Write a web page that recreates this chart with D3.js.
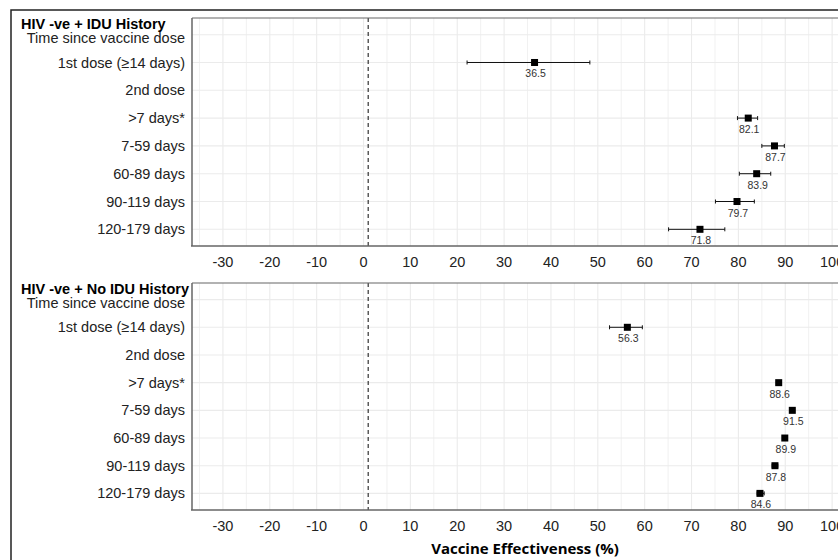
<!DOCTYPE html>
<html>
<head>
<meta charset="utf-8">
<script src="https://cdn.jsdelivr.net/npm/d3@7"></script>
<style>
  body { margin: 0; background: #fff; }
  svg text { font-family: "Liberation Sans", Arial, sans-serif; }
</style>
</head>
<body>
<div id="chart"></div>
<script>
// row labels (same for both panels)
var rows = ["Time since vaccine dose", "1st dose (\u226514 days)", "2nd dose", ">7 days*",
            "7-59 days", "60-89 days", "90-119 days", "120-179 days"];

// panel 1: HIV -ve + IDU History
var idu_rows = ["1st dose (\u226514 days)", ">7 days*", "7-59 days", "60-89 days", "90-119 days", "120-179 days"];
var idu_est  = [36.5, 82.1, 87.7, 83.9, 79.7, 71.8];
var idu_lo   = [22.1, 79.8, 85.0, 80.2, 75.1, 65.1];
var idu_hi   = [48.3, 84.1, 89.8, 86.9, 83.4, 77.1];

// panel 2: HIV -ve + No IDU History
var noidu_rows = ["1st dose (\u226514 days)", ">7 days*", "7-59 days", "60-89 days", "90-119 days", "120-179 days"];
var noidu_est  = [56.3, 88.6, 91.5, 89.9, 87.8, 84.6];
var noidu_lo   = [52.5, 88.1, 91.0, 89.4, 87.2, 84.0];
var noidu_hi   = [59.5, 89.1, 92.0, 90.4, 88.4, 85.5];

var xTicks = [-30, -20, -10, 0, 10, 20, 30, 40, 50, 60, 70, 80, 90, 100];

var W = 838, H = 560;
var svg = d3.select("#chart").append("svg")
    .attr("width", W).attr("height", H);

// outer frame
svg.append("rect")
    .attr("x", 11).attr("y", 10).attr("width", 860).attr("height", 600)
    .attr("fill", "none").attr("stroke", "#222").attr("stroke-width", 1.5);

var x = d3.scaleLinear().domain([-36.6, 102]).range([192, 841.5]);

function panel(title, top, bottom, labels, est, lo, hi) {
    var y = d3.scalePoint().domain(rows).range([top, bottom]).padding(0.6);
    var g = svg.append("g");

    // minor vertical grid
    g.selectAll(".minor").data(d3.range(-35, 101, 10)).enter().append("line")
        .attr("x1", function(d) { return x(d); }).attr("x2", function(d) { return x(d); })
        .attr("y1", top).attr("y2", bottom)
        .attr("stroke", "#efefef").attr("stroke-width", 0.9);
    // major vertical grid
    g.selectAll(".major").data(xTicks).enter().append("line")
        .attr("x1", function(d) { return x(d); }).attr("x2", function(d) { return x(d); })
        .attr("y1", top).attr("y2", bottom)
        .attr("stroke", "#ebebeb").attr("stroke-width", 1.1);
    // horizontal grid
    g.selectAll(".hg").data(rows).enter().append("line")
        .attr("x1", 192).attr("x2", W)
        .attr("y1", function(d) { return y(d); }).attr("y2", function(d) { return y(d); })
        .attr("stroke", "#ebebeb").attr("stroke-width", 1.1);

    // reference line
    g.append("line")
        .attr("x1", x(1)).attr("x2", x(1)).attr("y1", top).attr("y2", bottom)
        .attr("stroke", "#333").attr("stroke-width", 1.2).attr("stroke-dasharray", "4,3");

    // panel border
    g.append("line").attr("x1", 192).attr("x2", W).attr("y1", top).attr("y2", top)
        .attr("stroke", "#666").attr("stroke-width", 1.2);
    g.append("line").attr("x1", 192).attr("x2", 192).attr("y1", top).attr("y2", bottom)
        .attr("stroke", "#666").attr("stroke-width", 1.5);
    g.append("line").attr("x1", 191).attr("x2", W).attr("y1", bottom).attr("y2", bottom)
        .attr("stroke", "#666").attr("stroke-width", 1.6);

    // y labels
    g.selectAll(".yl").data(rows).enter().append("text")
        .attr("x", 185).attr("y", function(d, i) { return y(d) + (i === 0 ? 3 : 0); })
        .attr("dy", "0.35em").attr("text-anchor", "end")
        .style("font-size", "14.5px").attr("fill", "#222")
        .text(function(d) { return d; });

    // x tick labels
    g.selectAll(".xl").data(xTicks).enter().append("text")
        .attr("x", function(d) { return x(d); }).attr("y", bottom + 21)
        .attr("text-anchor", "middle")
        .style("font-size", "14.5px").attr("fill", "#222")
        .text(function(d) { return d; });

    // panel title
    g.append("text")
        .attr("x", 21).attr("y", top + 11)
        .style("font-size", "14.5px").style("font-weight", "bold").attr("fill", "#000")
        .text(title);

    var data = labels.map(function(l, i) { return { row: l, est: est[i], lo: lo[i], hi: hi[i] }; });

    // error bars
    var eb = g.selectAll(".eb").data(data).enter().append("g");
    eb.append("line")
        .attr("x1", function(d) { return x(d.lo); }).attr("x2", function(d) { return x(d.hi); })
        .attr("y1", function(d) { return y(d.row); }).attr("y2", function(d) { return y(d.row); })
        .attr("stroke", "#111").attr("stroke-width", 1);
    eb.append("line")
        .attr("x1", function(d) { return x(d.lo); }).attr("x2", function(d) { return x(d.lo); })
        .attr("y1", function(d) { return y(d.row) - 2; }).attr("y2", function(d) { return y(d.row) + 2; })
        .attr("stroke", "#111").attr("stroke-width", 1);
    eb.append("line")
        .attr("x1", function(d) { return x(d.hi); }).attr("x2", function(d) { return x(d.hi); })
        .attr("y1", function(d) { return y(d.row) - 2; }).attr("y2", function(d) { return y(d.row) + 2; })
        .attr("stroke", "#111").attr("stroke-width", 1);

    // points
    g.selectAll(".pt").data(data).enter().append("rect")
        .attr("x", function(d) { return x(d.est) - 3.5; })
        .attr("y", function(d) { return y(d.row) - 3.5; })
        .attr("width", 7).attr("height", 7).attr("fill", "#000");

    // value labels
    g.selectAll(".vl").data(data).enter().append("text")
        .attr("x", function(d) { return x(d.est) + 1; })
        .attr("y", function(d) { return y(d.row) + 15; })
        .attr("text-anchor", "middle")
        .style("font-size", "10.5px").attr("fill", "#333")
        .text(function(d) { return d.est.toFixed(1); });
}

panel("HIV -ve + IDU History", 18, 246, idu_rows, idu_est, idu_lo, idu_hi);
panel("HIV -ve + No IDU History", 283, 510, noidu_rows, noidu_est, noidu_lo, noidu_hi);

// x axis title
svg.append("text")
    .attr("x", 525).attr("y", 554)
    .attr("text-anchor", "middle")
    .style("font-family", "'Open Sans', sans-serif")
    .style("font-size", "15px").style("font-weight", "bold").attr("fill", "#000")
    .text("Vaccine Effectiveness (%)");
</script>
</body>
</html>
